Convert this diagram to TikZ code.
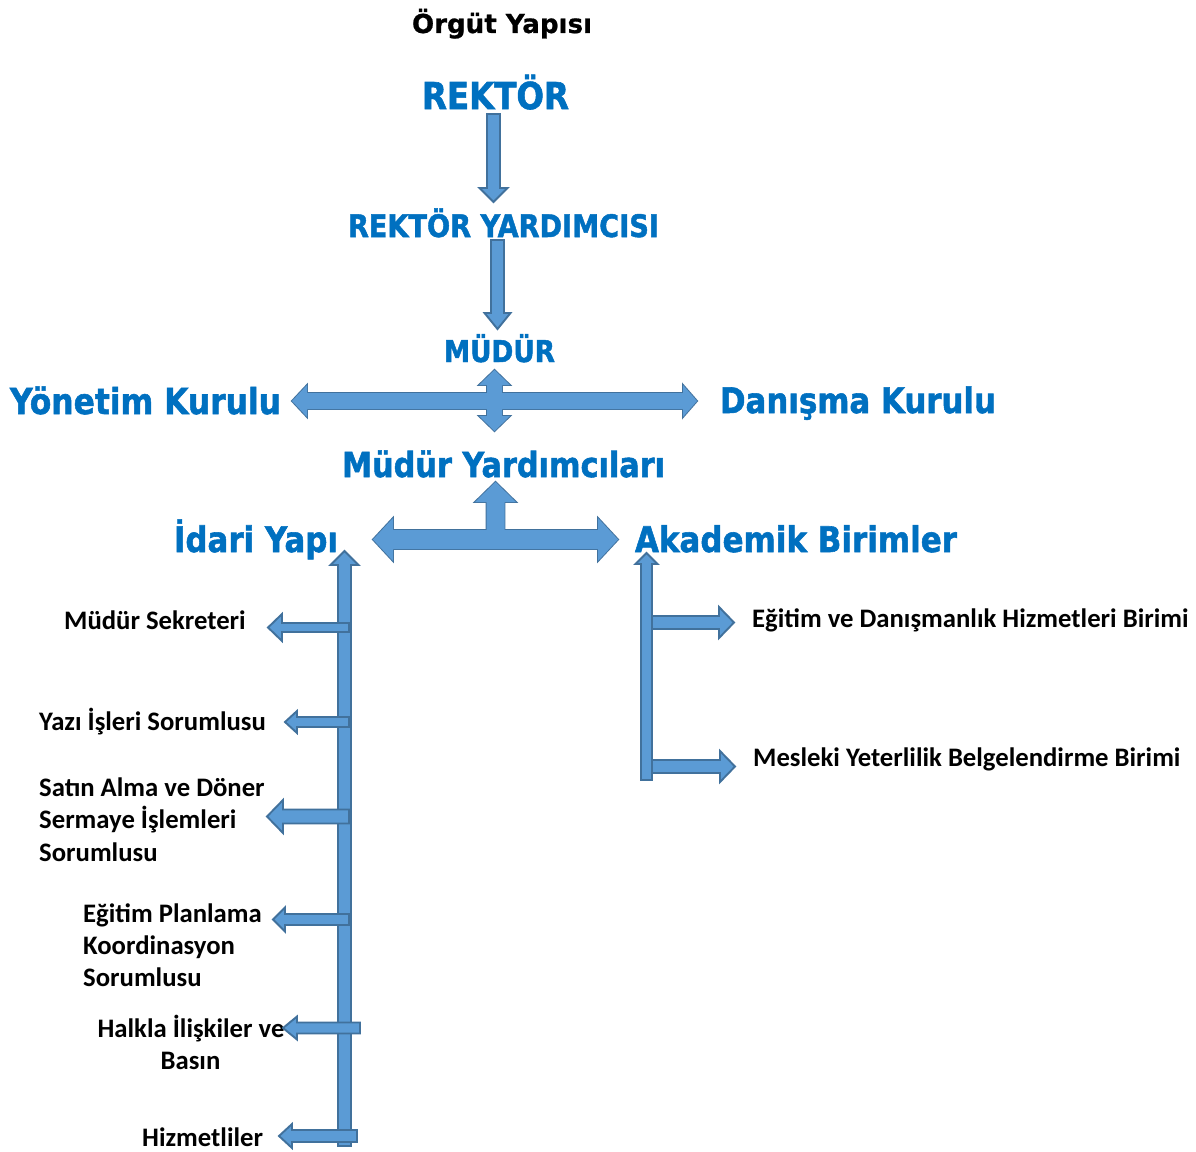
\documentclass[tikz,border=0pt]{standalone}
\usepackage{fontspec}
\setmainfont{Carlito}
\newfontfamily\headfont[FakeBold=1.6]{DejaVu Sans}
\newfontfamily\titlefont[FakeBold=0.8]{DejaVu Sans}
\definecolor{arrowfill}{HTML}{5B9BD5}
\definecolor{arrowline}{HTML}{41719C}
\definecolor{headblue}{HTML}{0070C0}
% horizontal block arrow: tipx, y, tailx, shafthalf, headhalf, headbase-x
\newcommand{\myharrow}[6]{(#1,#2) -- (#6,#2-#5) -- (#6,#2-#4) -- (#3,#2-#4) -- (#3,#2+#4) -- (#6,#2+#4) -- (#6,#2+#5) -- cycle}
% vertical block arrow: x, tipy, taily, shafthalf, headhalf, headbase-y
\newcommand{\myvarrow}[6]{(#1,#2) -- (#1+#5,#6) -- (#1+#4,#6) -- (#1+#4,#3) -- (#1-#4,#3) -- (#1-#4,#6) -- (#1-#5,#6) -- cycle}
\newcommand{\fitw}[2]{\resizebox{#1pt}{!}{\scalebox{1}[1.14]{#2}}}
\begin{document}
\begin{tikzpicture}[x=1pt,y=-1pt,
  blk/.style={fill=arrowfill,draw=arrowline,line width=1.9pt,line join=miter},
  blkfill/.style={fill=arrowfill},
  hd/.style={font=\headfont\bfseries\fontsize{28}{34}\selectfont,text=headblue,inner sep=0,anchor=base},
  ttl/.style={font=\titlefont\bfseries\fontsize{24}{30}\selectfont,text=black,inner sep=0,anchor=base},
  lbl/.style={font=\bfseries\fontsize{26.7}{32}\selectfont,text=black,inner sep=0,anchor=base west},
  lblc/.style={lbl,anchor=base}]
\useasboundingbox (0,0) rectangle (1196,1151);
\fill[white] (0,0) rectangle (1196,1151);

% ---- headings ----
\node[ttl] (title) at (502,33) {\resizebox{180pt}{!}{Örgüt Yapısı}};
\node[hd] (rektor) at (495.5,109) {\fitw{147}{REKTÖR}};
\node[hd] (ryard) at (503.5,237) {\fitw{311}{REKTÖR YARDIMCISI}};
\node[hd] (mudur) at (499.5,362) {\fitw{111}{MÜDÜR}};
\node[hd] (yonetim) at (145.5,414) {\fitw{271}{Yönetim Kurulu}};
\node[hd] (danisma) at (858,413) {\fitw{276}{Danışma Kurulu}};
\node[hd] (myard) at (503.5,477) {\fitw{323}{Müdür Yardımcıları}};
\node[hd] (idari) at (256,552) {\fitw{164}{İdari Yapı}};
\node[hd] (akad) at (796,552) {\fitw{322}{Akademik Birimler}};

% ---- labels ----
\node[lbl] (sekreter) at (64,629) {Müdür Sekreteri};
\node[lbl] (yazi) at (39,730) {Yazı İşleri Sorumlusu};
\node[lbl] (satin1) at (39,796) {Satın Alma ve Döner};
\node[lbl] (satin2) at (39,828.5) {Sermaye İşlemleri};
\node[lbl] (satin3) at (39,861) {Sorumlusu};
\node[lbl] (egit1) at (83,922) {Eğitim Planlama};
\node[lbl] (egit2) at (83,954) {Koordinasyon};
\node[lbl] (egit3) at (83,986) {Sorumlusu};
\node[lblc] (halk1) at (191,1037) {Halkla İlişkiler ve};
\node[lblc] (halk2) at (190.5,1069) {Basın};
\node[lbl] (hizmet) at (142,1146) {Hizmetliler};
\node[lbl] (edhb) at (752,627) {Eğitim ve Danışmanlık Hizmetleri Birimi};
\node[lbl] (mybb) at (753,766) {Mesleki Yeterlilik Belgelendirme Birimi};

% ---- top vertical arrows ----
\draw[blk] \myvarrow{493.5}{202}{114}{6.5}{14}{188};
\draw[blk] \myvarrow{497.5}{329}{240}{6.5}{13}{313};

% ---- cross at MÜDÜR ----
\def\crossH{(292,401) -- (307,385) -- (307,393) -- (683,393) -- (683,385) -- (697,401) -- (683,417) -- (683,409) -- (307,409) -- (307,417) -- cycle}
\def\crossV{(494.5,370) -- (510,385) -- (502,385) -- (502,416) -- (510,416) -- (494.5,431) -- (479,416) -- (487,416) -- (487,385) -- (479,385) -- cycle}
\draw[blk] \crossH;
\draw[blk] \crossV;
\fill[blkfill] \crossH;
\fill[blkfill] \crossV;

% ---- T arrow under Müdür Yardımcıları ----
\def\tH{(373,539.5) -- (393,518) -- (393,530) -- (598,530) -- (598,518) -- (618,539.5) -- (598,561) -- (598,549) -- (393,549) -- (393,561) -- cycle}
\def\tV{(495.5,482) -- (516,502) -- (504.5,502) -- (504.5,539) -- (486.5,539) -- (486.5,502) -- (475,502) -- cycle}
\draw[blk] \tH;
\draw[blk] \tV;
\fill[blkfill] \tH;
\fill[blkfill] \tV;

% ---- İdari Yapı tree ----
\draw[blk] \myvarrow{344.5}{551}{1146}{6.5}{14}{565};
\draw[blk] \myharrow{268}{627.5}{349}{4.5}{13.5}{282};
\draw[blk] \myharrow{285}{722}{349}{5}{11}{297};
\draw[blk] \myharrow{267}{816.5}{349}{7}{16.5}{283};
\draw[blk] \myharrow{273}{919.5}{349}{5.5}{12}{285};
\draw[blk] \myharrow{283}{1028}{360}{5.5}{11.5}{297};
\draw[blk] \myharrow{279}{1136}{357}{6}{12}{292};

% ---- Akademik Birimler tree ----
\draw[blk] \myharrow{734}{622.5}{650}{6.5}{15.5}{719};
\draw[blk] \myharrow{735}{766.5}{650}{6.5}{15.5}{720};
\draw[blk] \myvarrow{646.5}{553}{780}{5.5}{11}{564};
\end{tikzpicture}
\end{document}
